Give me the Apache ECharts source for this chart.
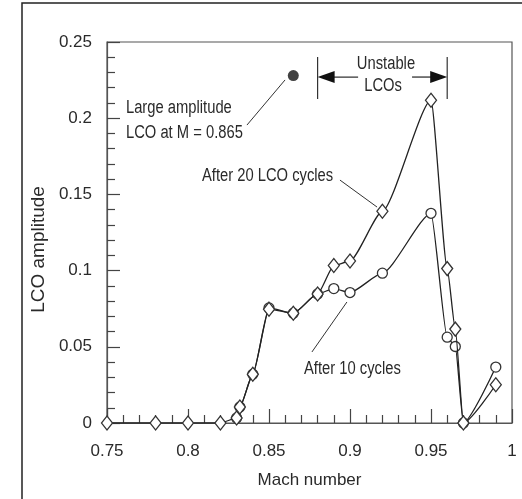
<!DOCTYPE html>
<html>
<head>
<meta charset="utf-8">
<script src="https://cdn.jsdelivr.net/npm/echarts@6/dist/echarts.min.js"></script>
<style>
html,body{margin:0;padding:0;background:#fff;}
#c{width:522px;height:499px;}
</style>
</head>
<body>
<div id="c"></div>
<script>
// ---- data ----
const mach20 = [0.75, 0.78, 0.80, 0.82, 0.83, 0.832, 0.84, 0.85, 0.865, 0.88, 0.89, 0.90, 0.92, 0.95, 0.96, 0.965, 0.97, 0.99];
const amp20  = [0, 0, 0, 0, 0.0033, 0.0105, 0.032, 0.0747, 0.072, 0.0847, 0.1033, 0.1063, 0.139, 0.2118, 0.1013, 0.0616, 0, 0.0251];
const mach10 = [0.83, 0.832, 0.84, 0.85, 0.865, 0.88, 0.89, 0.90, 0.92, 0.95, 0.96, 0.965, 0.97, 0.99];
const amp10  = [0.0033, 0.0105, 0.032, 0.0755, 0.072, 0.0847, 0.0882, 0.0856, 0.0983, 0.1376, 0.0563, 0.0502, 0, 0.0367];
const largeLCO = [[0.865, 0.228]];
const xTicks = [0.75, 0.8, 0.85, 0.9, 0.95, 1];
const yTicks = [0, 0.05, 0.1, 0.15, 0.2, 0.25];
const unstableRange = [0.88, 0.96];

const FONT = '"Liberation Sans", Arial, sans-serif';
const TXT = '#2a2a2a';
const pair = (xs, ys) => xs.map((x, i) => [x, ys[i]]);

const chart = echarts.init(document.getElementById('c'));
chart.setOption({
  animation: false,
  backgroundColor: '#fff',
  grid: { left: 107, right: 10, top: 42, bottom: 76, show: true, borderColor: '#555', borderWidth: 1.2, backgroundColor: 'transparent' },
  xAxis: {
    type: 'value', min: xTicks[0], max: xTicks[xTicks.length - 1], interval: 0.05,
    name: 'Mach number', nameLocation: 'middle', nameGap: 49,
    nameTextStyle: { fontFamily: FONT, fontSize: 17, color: TXT },
    axisLine: { lineStyle: { color: '#555', width: 1.2 } },
    axisTick: { inside: true, length: 14, lineStyle: { color: '#444', width: 1.2 } },
    minorTick: { show: true, splitNumber: 5, length: 8, lineStyle: { color: '#444', width: 1.2 } },
    splitLine: { show: false },
    axisLabel: { margin: 20, fontFamily: FONT, fontSize: 17, color: TXT,
      formatter: v => xTicks.find(t => Math.abs(t - v) < 1e-9) !== undefined ? String(+v.toFixed(2)) : '' }
  },
  yAxis: {
    type: 'value', min: yTicks[0], max: yTicks[yTicks.length - 1], interval: 0.05,
    name: 'LCO amplitude', nameLocation: 'middle', nameGap: 42,
    nameTextStyle: { fontFamily: FONT, fontSize: 19, color: TXT, padding: [0, 34, 0, 0] },
    axisLine: { lineStyle: { color: '#555', width: 1.2 } },
    axisTick: { inside: true, length: 13, lineStyle: { color: '#444', width: 1.2 } },
    minorTick: { show: true, splitNumber: 5, length: 8, lineStyle: { color: '#444', width: 1.2 } },
    splitLine: { show: false },
    axisLabel: { margin: 15, fontFamily: FONT, fontSize: 17, color: TXT,
      formatter: v => String(+v.toFixed(2)) }
  },
  series: [
    {
      name: 'After 10 cycles', type: 'line', data: pair(mach10, amp10),
      smooth: 0.2, smoothMonotone: 'x',
      symbol: 'circle', symbolSize: 10, showAllSymbol: true,
      lineStyle: { color: '#222', width: 1.3 },
      itemStyle: { color: '#fff', borderColor: '#333', borderWidth: 1.3 }, z: 3
    },
    {
      name: 'After 20 LCO cycles', type: 'line', data: pair(mach20, amp20),
      smooth: 0.2, smoothMonotone: 'x',
      symbol: 'diamond', symbolSize: [11, 14], showAllSymbol: true,
      lineStyle: { color: '#222', width: 1.3 },
      itemStyle: { color: '#fff', borderColor: '#333', borderWidth: 1.3 }, z: 4
    },
    {
      name: 'Large amplitude LCO', type: 'scatter', data: largeLCO,
      symbol: 'circle', symbolSize: 11, itemStyle: { color: '#111' }, z: 5
    }
  ]
});

// ---- annotations placed from data coordinates ----
const P = (x, y) => chart.convertToPixel({ gridIndex: 0 }, [x, y]);
const txt = (x, y, s, align) => {
  const p = P(x, y);
  return { type: 'text', x: p[0], y: p[1], scaleX: 0.82, z: 10,
    style: { text: s, fontFamily: FONT, fontSize: 18, fill: TXT, align: align || 'left', verticalAlign: 'middle' } };
};
const seg = (x1, y1, x2, y2, w) => {
  const a = P(x1, y1), b = P(x2, y2);
  return { type: 'line', z: 10, shape: { x1: a[0], y1: a[1], x2: b[0], y2: b[1] }, style: { stroke: '#333', lineWidth: w || 1 } };
};
const arrowHead = (tipX, y, dir) => {
  const t = P(tipX, y);
  const L = 17, H = 6;
  return { type: 'polygon', z: 10, shape: { points: [[t[0], t[1]], [t[0] - dir * L, t[1] - H], [t[0] - dir * L, t[1] + H]] }, style: { fill: '#111' } };
};
const yArrow = 0.227;
const graphics = [
  { type: 'rect', z: 0, shape: { x: 22, y: 3, width: 600, height: 600 }, style: { fill: 'none', stroke: '#222', lineWidth: 1.5 } },
  txt(0.7617, 0.2067, 'Large amplitude'),
  txt(0.7617, 0.1903, 'LCO at M = 0.865'),
  seg(0.8364, 0.1955, 0.8599, 0.2251),
  txt(0.9222, 0.2356, 'Unstable', 'center'),
  txt(0.9204, 0.2211, 'LCOs', 'center'),
  seg(unstableRange[0], 0.2402, unstableRange[0], 0.2126, 1.2),
  seg(unstableRange[1], 0.2402, unstableRange[1], 0.2126, 1.2),
  seg(0.905, yArrow, unstableRange[0] + 0.005, yArrow, 1.3),
  arrowHead(unstableRange[0], yArrow, -1),
  seg(0.9383, yArrow, unstableRange[1] - 0.005, yArrow, 1.3),
  arrowHead(unstableRange[1], yArrow, 1),
  txt(0.8086, 0.1621, 'After 20 LCO cycles'),
  seg(0.8938, 0.1594, 0.9167, 0.1417),
  txt(0.8716, 0.0354, 'After 10 cycles'),
  seg(0.8765, 0.0466, 0.8981, 0.0794)
];
chart.setOption({ graphic: graphics });
</script>
</body>
</html>
